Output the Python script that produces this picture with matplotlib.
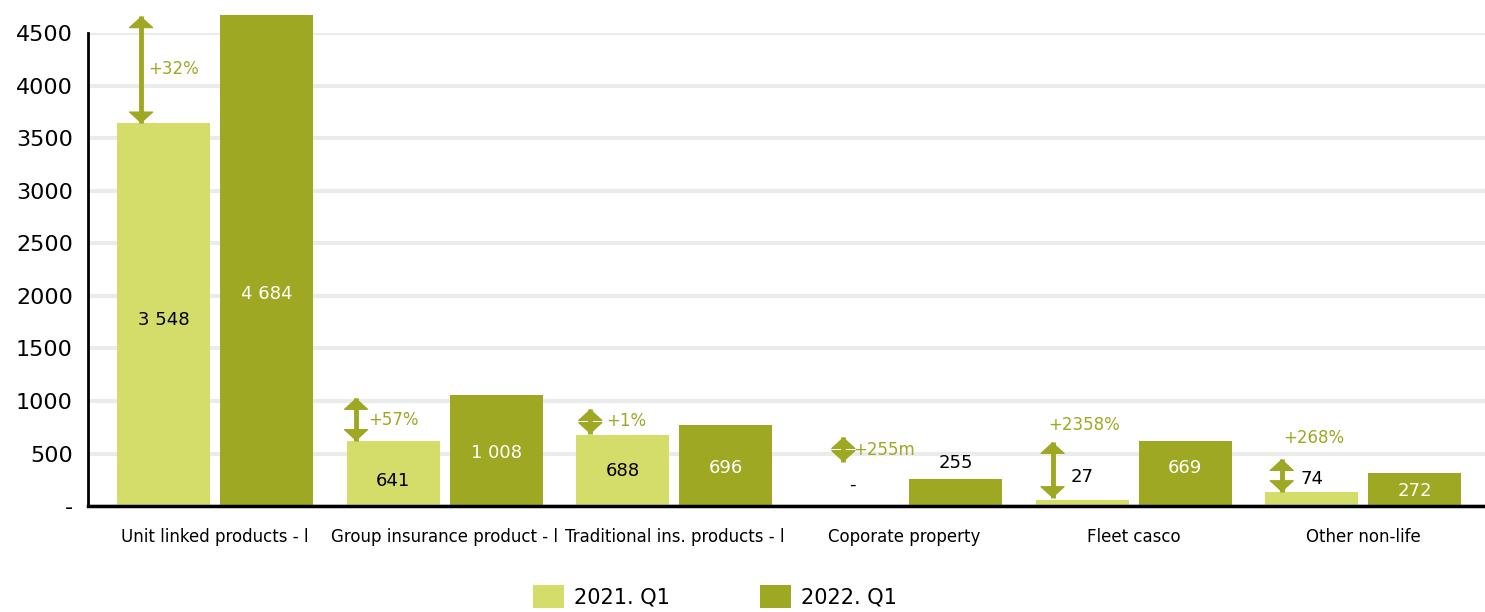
import matplotlib
matplotlib.use("Agg")
import matplotlib.pyplot as plt
import numpy as np

plt.rcParams['font.family'] = ['DejaVu Sans']

categories = ['Unit linked products - l', 'Group insurance product - l',
              'Traditional ins. products - l', 'Coporate property',
              'Fleet casco', 'Other non-life']
series_names = ['2021. Q1', '2022. Q1']
# bar heights as drawn in the picture
h2021 = [3640, 620, 676, 0, 60, 133]
h2022 = [4676, 1057, 771, 257, 619, 314]
# printed value labels
lab2021 = ['3 548', '641', '688', '-', '27', '74']
lab2022 = ['4 684', '1 008', '696', '255', '669', '272']
changes = ['+32%', '+57%', '+1%', '+255m', '+2358%', '+268%']
yticks = [0, 500, 1000, 1500, 2000, 2500, 3000, 3500, 4000, 4500]

# label / arrow layout (data units)
lab2021_y = [1771, 238, 333, 200, 276, 257]
lab2022_y = [2019, 505, 362, 410, 362, 143]
lab2021_c = ['black'] * 6
lab2022_c = ['white', 'white', 'white', 'black', 'white', 'white']
arrow_dx = [-0.322, -0.386, -0.366, -0.264, -0.353, -0.355]
arrow_y0 = [3640, 619, 686, 419, 76, 133]
arrow_y1 = [4660, 1029, 924, 657, 610, 448]
chg_x = [0.03, 0.055, 0.07, 0.045, -0.02, 0.005]
chg_y = [4162, 819, 810, 533, 771, 652]

light = '#d4dc6a'
dark = '#9ea823'

fig = plt.figure(figsize=(14.85, 6.12), dpi=100)
ax = fig.add_axes([0.0593, 0.173, 0.9407, 0.773])

x = np.arange(len(categories))
w = 0.405
off = 0.224
ax.bar(x - off, h2021, w, color=light, label=series_names[0], clip_on=False, zorder=3)
ax.bar(x + off, h2022, w, color=dark, label=series_names[1], clip_on=False, zorder=3)

for i in range(len(categories)):
    ax.text(x[i] - off, lab2021_y[i], lab2021[i], ha='center', va='center',
            fontsize=13, color=lab2021_c[i], zorder=5)
    ax.text(x[i] + off, lab2022_y[i], lab2022[i], ha='center', va='center',
            fontsize=13, color=lab2022_c[i], zorder=5)
    ax_x = x[i] + arrow_dx[i]
    ax.plot([ax_x, ax_x], [arrow_y0[i], arrow_y1[i]], color=dark, lw=3.5,
            solid_capstyle='butt', zorder=5, clip_on=False)
    ax.annotate('', xy=(ax_x, arrow_y1[i]), xytext=(ax_x, arrow_y0[i]),
                arrowprops=dict(arrowstyle='<|-|>,head_length=0.55,head_width=0.6',
                                color=dark, lw=0.8, mutation_scale=14,
                                shrinkA=0, shrinkB=0),
                annotation_clip=False, zorder=6)
    ax.text(ax_x + chg_x[i], chg_y[i], changes[i], ha='left',
            va='center', fontsize=12, color=dark, zorder=6)

ax.set_xlim(-0.553, 5.53)
ax.set_ylim(0, 4500)
ax.set_yticks(yticks)
ax.set_yticklabels(['-'] + [str(v) for v in yticks[1:]], fontsize=16)
ax.set_xticks(x)
ax.set_xticklabels(categories, fontsize=12)
ax.tick_params(axis='x', length=0, pad=16)
ax.tick_params(axis='y', length=0, pad=11)
ax.grid(axis='y', color='#ebebeb', lw=3, zorder=0)
ax.set_axisbelow(True)
for s in ['top', 'right']:
    ax.spines[s].set_visible(False)
ax.spines['left'].set_linewidth(2)
ax.spines['bottom'].set_linewidth(2.5)
ax.spines['left'].set_zorder(4)
ax.spines['bottom'].set_zorder(4)

fig.legend(loc='lower center', bbox_to_anchor=(0.4815, -0.024), ncol=2, frameon=False,
           fontsize=15, handlelength=1.5, handleheight=1.3, columnspacing=4.3,
           handletextpad=0.5)

fig.savefig('out.png', dpi=100)
